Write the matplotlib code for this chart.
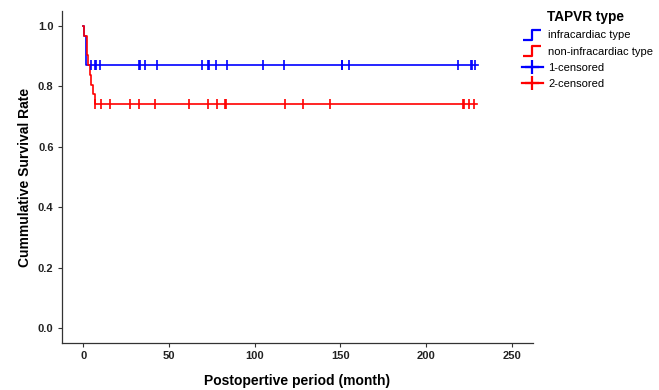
import matplotlib
matplotlib.use("Agg")
import matplotlib.pyplot as plt
from matplotlib.lines import Line2D
from matplotlib.path import Path

plt.rcParams['font.family'] = ['Liberation Sans', 'DejaVu Sans']

# survival step curves (time in months, survival after the drop)
infra_time = [0, 0.4, 1.6, 230.5]
infra_surv = [1.0, 0.968, 0.871, 0.871]
non_time = [0, 0.6, 2.3, 2.9, 3.6, 4.4, 5.6, 6.5, 230.0]
non_surv = [1.0, 0.968, 0.903, 0.871, 0.839, 0.806, 0.774, 0.742, 0.742]

# censoring times
infra_cens = [4.7, 7.0, 7.6, 9.5, 32.5, 33.3, 35.8, 43.0, 69.3, 72.8, 73.4, 77.6, 83.9,
              105.1, 117.0, 150.7, 151.1, 154.8, 218.5, 226.2, 227.0, 228.6]
non_cens = [7.0, 10.5, 15.6, 27.5, 32.5, 41.7, 61.7, 72.8, 77.9, 82.5, 83.1,
            117.6, 127.9, 143.7, 221.4, 222.1, 225.3, 228.2]

blue = '#0000ff'
red = '#ff0000'

fig = plt.figure(figsize=(6.59, 3.90), dpi=100)
ax = fig.add_axes([0.094, 0.1205, 0.715, 0.8515])

ax.step(infra_time, infra_surv, where='post', color=blue, lw=1.2)
ax.step(non_time, non_surv, where='post', color=red, lw=1.2)
ax.plot(infra_cens, [infra_surv[-1]] * len(infra_cens), ls='none', marker='|',
        ms=7, mew=1.2, color=blue)
ax.plot(non_cens, [non_surv[-1]] * len(non_cens), ls='none', marker='|',
        ms=7, mew=1.2, color=red)

ax.set_xlim(-12.5, 262.5)
ax.set_ylim(-0.05, 1.05)
ax.set_xticks([0, 50, 100, 150, 200, 250])
ax.set_yticks([0.0, 0.2, 0.4, 0.6, 0.8, 1.0])
ax.set_yticklabels(['0.0', '0.2', '0.4', '0.6', '0.8', '1.0'])
for s in ['top', 'right']:
    ax.spines[s].set_visible(False)
for s in ['left', 'bottom']:
    ax.spines[s].set_color('#333333')
    ax.spines[s].set_linewidth(0.9)
ax.tick_params(length=3, width=0.8, color='#333333', labelsize=8, pad=3)
for lab in ax.get_xticklabels() + ax.get_yticklabels():
    lab.set_fontweight('bold')
    lab.set_color('#222222')

ax.set_xlabel('Postopertive period (month)', fontsize=10, fontweight='bold', labelpad=9)
ax.set_ylabel('Cummulative Survival Rate', fontsize=10, fontweight='bold', labelpad=4)

step_mk = Path([(-1, -0.5), (0, -0.5), (0, 0.5), (1, 0.5)],
               [Path.MOVETO, Path.LINETO, Path.LINETO, Path.LINETO])
handles = [
    Line2D([], [], ls='none', marker=step_mk, ms=13, mew=1.6, mfc='none', mec=blue),
    Line2D([], [], ls='none', marker=step_mk, ms=13, mew=1.6, mfc='none', mec=red),
    Line2D([], [], color=blue, lw=1.6, marker='+', ms=10, mew=1.6),
    Line2D([], [], color=red, lw=1.6, marker='+', ms=10, mew=1.6),
]
labels = ['infracardiac type', 'non-infracardiac type', '1-censored', '2-censored']
fig.text(0.830, 0.956, 'TAPVR type', fontsize=9.8, fontweight='bold', va='center', ha='left')
leg = fig.legend(handles, labels, loc='upper left', bbox_to_anchor=(0.792, 0.922),
                 frameon=False, fontsize=8, handlelength=1.9,
                 handletextpad=0.45, labelspacing=0.55, borderaxespad=0, borderpad=0)

fig.savefig('out.png', dpi=100)
